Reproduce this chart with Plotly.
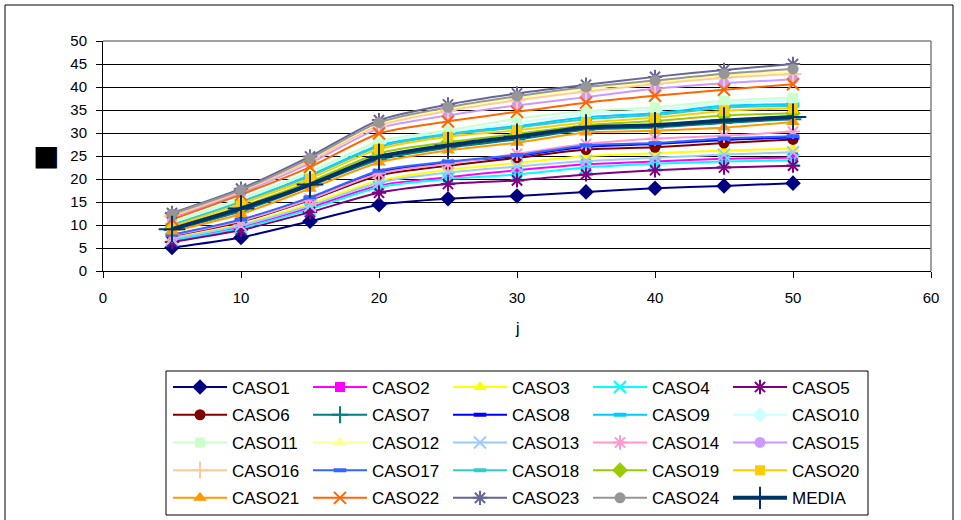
import plotly.graph_objects as go

j_vals = [5, 10, 15, 20, 25, 30, 35, 40, 45, 50]

CASO1 = [5.1, 7.3, 10.8, 14.4, 15.7, 16.3, 17.2, 18.0, 18.5, 19.1]
CASO2 = [6.8, 9.6, 13.8, 18.6, 20.4, 21.9, 23.2, 23.8, 24.4, 24.7]
CASO3 = [7.1, 10.1, 14.6, 19.6, 22.0, 23.5, 25.0, 25.6, 26.2, 26.6]
CASO4 = [6.6, 9.3, 13.4, 18.2, 20.0, 21.0, 22.5, 23.3, 23.8, 24.1]
CASO5 = [6.3, 8.9, 12.8, 17.0, 18.9, 19.7, 21.0, 21.9, 22.5, 22.9]
CASO6 = [7.6, 10.7, 15.4, 20.8, 22.9, 24.6, 26.4, 26.9, 27.8, 28.6]
CASO7 = [8.9, 13.0, 18.5, 24.2, 26.8, 28.6, 30.7, 31.2, 32.2, 33.0]
CASO8 = [7.8, 11.0, 15.8, 21.5, 23.6, 25.0, 27.0, 27.6, 28.5, 29.0]
CASO9 = [10.2, 15.2, 20.9, 27.3, 29.9, 31.5, 33.4, 34.3, 35.9, 36.3]
CASO10 = [10.4, 15.5, 21.3, 27.8, 30.2, 32.2, 34.2, 35.0, 36.5, 37.1]
CASO11 = [10.6, 15.8, 21.6, 28.2, 30.6, 33.1, 34.8, 35.6, 37.0, 37.7]
CASO12 = [12.1, 17.5, 24.2, 32.0, 35.2, 37.6, 39.6, 41.0, 42.5, 43.3]
CASO13 = [7.0, 9.9, 14.2, 19.2, 21.4, 22.7, 23.9, 24.6, 25.3, 25.8]
CASO14 = [7.7, 10.9, 15.6, 21.2, 23.3, 25.5, 27.6, 28.8, 29.4, 30.3]
CASO15 = [11.6, 17.0, 23.4, 31.0, 33.8, 36.0, 37.8, 39.6, 40.8, 41.7]
CASO16 = [11.9, 17.3, 23.9, 31.6, 34.8, 37.1, 39.0, 40.6, 42.0, 42.8]
CASO17 = [7.9, 11.2, 16.0, 21.8, 23.8, 25.2, 27.3, 27.8, 28.8, 29.3]
CASO18 = [10.0, 15.0, 20.6, 27.0, 29.6, 31.2, 33.0, 33.9, 35.5, 35.9]
CASO19 = [9.4, 14.0, 19.4, 25.6, 28.0, 29.8, 31.7, 32.6, 33.8, 34.3]
CASO20 = [9.7, 14.6, 20.1, 26.5, 29.2, 30.6, 32.3, 33.3, 34.8, 35.4]
CASO21 = [8.6, 12.4, 17.9, 23.6, 26.2, 27.9, 30.1, 30.5, 31.2, 32.4]
CASO22 = [11.2, 16.6, 22.6, 29.9, 32.5, 34.6, 36.6, 38.1, 39.4, 40.6]
CASO23 = [12.6, 17.9, 24.9, 32.8, 36.2, 38.6, 40.5, 42.2, 43.7, 45.0]
CASO24 = [12.4, 17.6, 24.5, 32.3, 35.6, 38.0, 40.0, 41.4, 42.9, 43.9]
MEDIA = [9.1, 13.6, 18.8, 24.8, 27.3, 29.2, 31.2, 31.7, 32.7, 33.5]

series_names = ["CASO%d" % i for i in range(1, 25)] + ["MEDIA"]
series_values = [CASO1, CASO2, CASO3, CASO4, CASO5, CASO6, CASO7, CASO8, CASO9, CASO10,
                 CASO11, CASO12, CASO13, CASO14, CASO15, CASO16, CASO17, CASO18, CASO19,
                 CASO20, CASO21, CASO22, CASO23, CASO24, MEDIA]
series_colors = ["#000080", "#FF00FF", "#FFFF00", "#00FFFF", "#800080", "#800000", "#008080",
                 "#0000FF", "#00CCFF", "#CCFFFF", "#CCFFCC", "#FFFF99", "#99CCFF", "#FF99CC",
                 "#CC99FF", "#FFCC99", "#3366FF", "#33CCCC", "#99CC00", "#FFCC00", "#FF9900",
                 "#FF6600", "#666699", "#969696", "#003366"]
series_symbols = ["diamond", "square", "triangle-up", "x-thin-open", "asterisk-open", "circle",
                  "cross-thin-open", "line-ew-open", "line-ew-open", "diamond", "square",
                  "triangle-up", "x-thin-open", "asterisk-open", "circle", "cross-thin-open",
                  "line-ew-open", "line-ew-open", "diamond", "square", "triangle-up",
                  "x-thin-open", "asterisk-open", "circle", "cross-thin-open"]

W, H = 961, 520
L, R, T, B = 103, 30, 41, 249
PW, PH = W - L - R, H - T - B


def px_x(p):
    return (p - L) / PW


def px_y(p):
    return (H - B - p) / PH


FONT = "Liberation Sans, Arial, sans-serif"

fig = go.Figure()
for i, (name, vals, col, sym) in enumerate(zip(series_names, series_values, series_colors, series_symbols)):
    is_media = name == "MEDIA"
    thin = sym.endswith("-open")
    size = {"diamond": 12, "square": 10, "triangle-up": 12, "circle": 11}.get(sym, 12)
    if sym == "line-ew-open":
        size = 9
    if is_media:
        size = 19
    marker = dict(symbol=sym, color=col, size=size,
                  line=dict(color=col, width=(4 if sym == "line-ew-open" else 2) if thin else 0))
    legend_id = "legend" if i % 5 == 0 else "legend%d" % (i % 5 + 1)
    fig.add_trace(go.Scatter(
        x=j_vals, y=vals, name=name, mode="lines+markers",
        line=dict(color=col, width=4 if is_media else 2, shape="spline", smoothing=0.7),
        marker=marker, legend=legend_id, legendgroup=name,
    ))

col_left = [168 + c * 140 for c in range(5)]
legend_common = dict(orientation="v", yanchor="top", xanchor="left", y=px_y(369.5),
                     bgcolor="rgba(0,0,0,0)", borderwidth=0, tracegroupgap=2.6,
                     font=dict(family=FONT, size=17, color="black"), itemwidth=54)
layout_legends = {}
for c in range(5):
    key = "legend" if c == 0 else "legend%d" % (c + 1)
    layout_legends[key] = dict(legend_common, x=px_x(col_left[c]))

fig.update_layout(
    width=W, height=H,
    margin=dict(l=L, r=R, t=T, b=B, pad=0, autoexpand=False),
    paper_bgcolor="white", plot_bgcolor="white",
    font=dict(family=FONT, size=15, color="black"),
    showlegend=True,
    xaxis=dict(range=[0, 60], dtick=10, tick0=0, showgrid=False, zeroline=False,
               showline=True, linecolor="black", linewidth=1, ticks="outside", ticklen=6,
               tickcolor="black", ticklabelstandoff=7, tickfont=dict(size=15)),
    yaxis=dict(range=[0, 50], dtick=5, tick0=0, showgrid=True, gridcolor="black", gridwidth=1,
               zeroline=False, showline=True, linecolor="black", linewidth=1, ticks="outside",
               ticklen=6, tickcolor="black", ticklabelstandoff=6, tickfont=dict(size=15)),
    **layout_legends,
)

shapes = [
    dict(type="line", xref="paper", yref="paper", x0=0, x1=1, y0=1, y1=1,
         line=dict(color="#808080", width=1.5), layer="above"),
    dict(type="line", xref="paper", yref="paper", x0=1, x1=1, y0=0, y1=1,
         line=dict(color="#808080", width=1.5), layer="above"),
    dict(type="rect", xref="paper", yref="paper", x0=px_x(166), x1=px_x(868),
         y0=px_y(515), y1=px_y(371), line=dict(color="black", width=1), layer="above"),
    dict(type="rect", xref="paper", yref="paper", x0=px_x(5), x1=px_x(953),
         y0=px_y(530), y1=px_y(5), line=dict(color="black", width=1), layer="below"),
]
fig.update_layout(shapes=shapes)

fig.add_annotation(text="j", xref="paper", yref="paper", x=0.5, y=px_y(328),
                   showarrow=False, font=dict(family=FONT, size=16, color="black"),
                   xanchor="center", yanchor="middle")
fig.add_annotation(text="■", xref="paper", yref="paper", x=px_x(46), y=px_y(155),
                   showarrow=False, font=dict(family="DejaVu Sans", size=28, color="black"),
                   xanchor="center", yanchor="middle")

fig.write_html("out.html")
